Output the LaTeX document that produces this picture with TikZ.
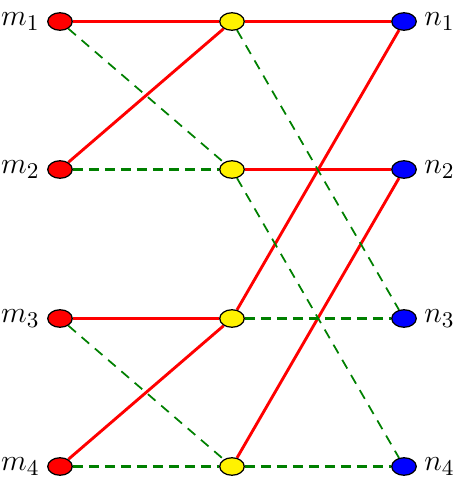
\documentclass[tikz,border=0pt]{standalone}
\usetikzlibrary{shapes.geometric,backgrounds}
\begin{document}
\begin{tikzpicture}[x=0.4pt,y=-0.4pt,
  vtx/.style={ellipse,draw=black,line width=0.5pt,minimum width=9.8pt,minimum height=7pt,inner sep=0pt},
  redv/.style={vtx,fill=red},
  yelv/.style={vtx,fill=yellow},
  bluv/.style={vtx,fill=blue},
  lbl/.style={label distance=2.8pt,inner sep=0pt,font=\fontsize{12.5}{15}\selectfont},
  redline/.style={draw=red,line width=1.15pt},
  gthick/.style={draw=green!50!black,line width=1.2pt,dash pattern=on 4pt off 2.4pt},
  gthin/.style={draw=green!50!black,line width=0.7pt,dash pattern=on 4pt off 3pt}]
\useasboundingbox (0,0) rectangle (459,488);
\node[redv,label={[lbl]left:$m_1$}] (m1) at (60,21.5) {};
\node[redv,label={[lbl]left:$m_2$}] (m2) at (60,169.5) {};
\node[redv,label={[lbl]left:$m_3$}] (m3) at (60,318.5) {};
\node[redv,label={[lbl]left:$m_4$}] (m4) at (60,466.5) {};
\node[yelv] (y1) at (232,21.5) {};
\node[yelv] (y2) at (232,169.5) {};
\node[yelv] (y3) at (232,318.5) {};
\node[yelv] (y4) at (232,466.5) {};
\node[bluv,label={[lbl]right:$n_1$}] (n1) at (404,21.5) {};
\node[bluv,label={[lbl]right:$n_2$}] (n2) at (404,169.5) {};
\node[bluv,label={[lbl]right:$n_3$}] (n3) at (404,318.5) {};
\node[bluv,label={[lbl]right:$n_4$}] (n4) at (404,466.5) {};
\begin{scope}[on background layer]
\draw[redline] (m1) -- (y1);
\draw[redline] (y1) -- (n1);
\draw[redline] (m2) -- (y1);
\draw[redline] (y2) -- (n2);
\draw[redline] (m3) -- (y3);
\draw[redline] (y3) -- (n1);
\draw[redline] (m4) -- (y3);
\draw[redline] (y4) -- (n2);
\draw[gthick] (m2) -- (y2);
\draw[gthick] (y3) -- (n3);
\draw[gthick] (m4) -- (y4);
\draw[gthick] (y4) -- (n4);
\draw[gthin] (m1) -- (y2);
\draw[gthin] (y1) -- (n3);
\draw[gthin] (m3) -- (y4);
\draw[gthin] (y2) -- (n4);
\end{scope}
\end{tikzpicture}
\end{document}
